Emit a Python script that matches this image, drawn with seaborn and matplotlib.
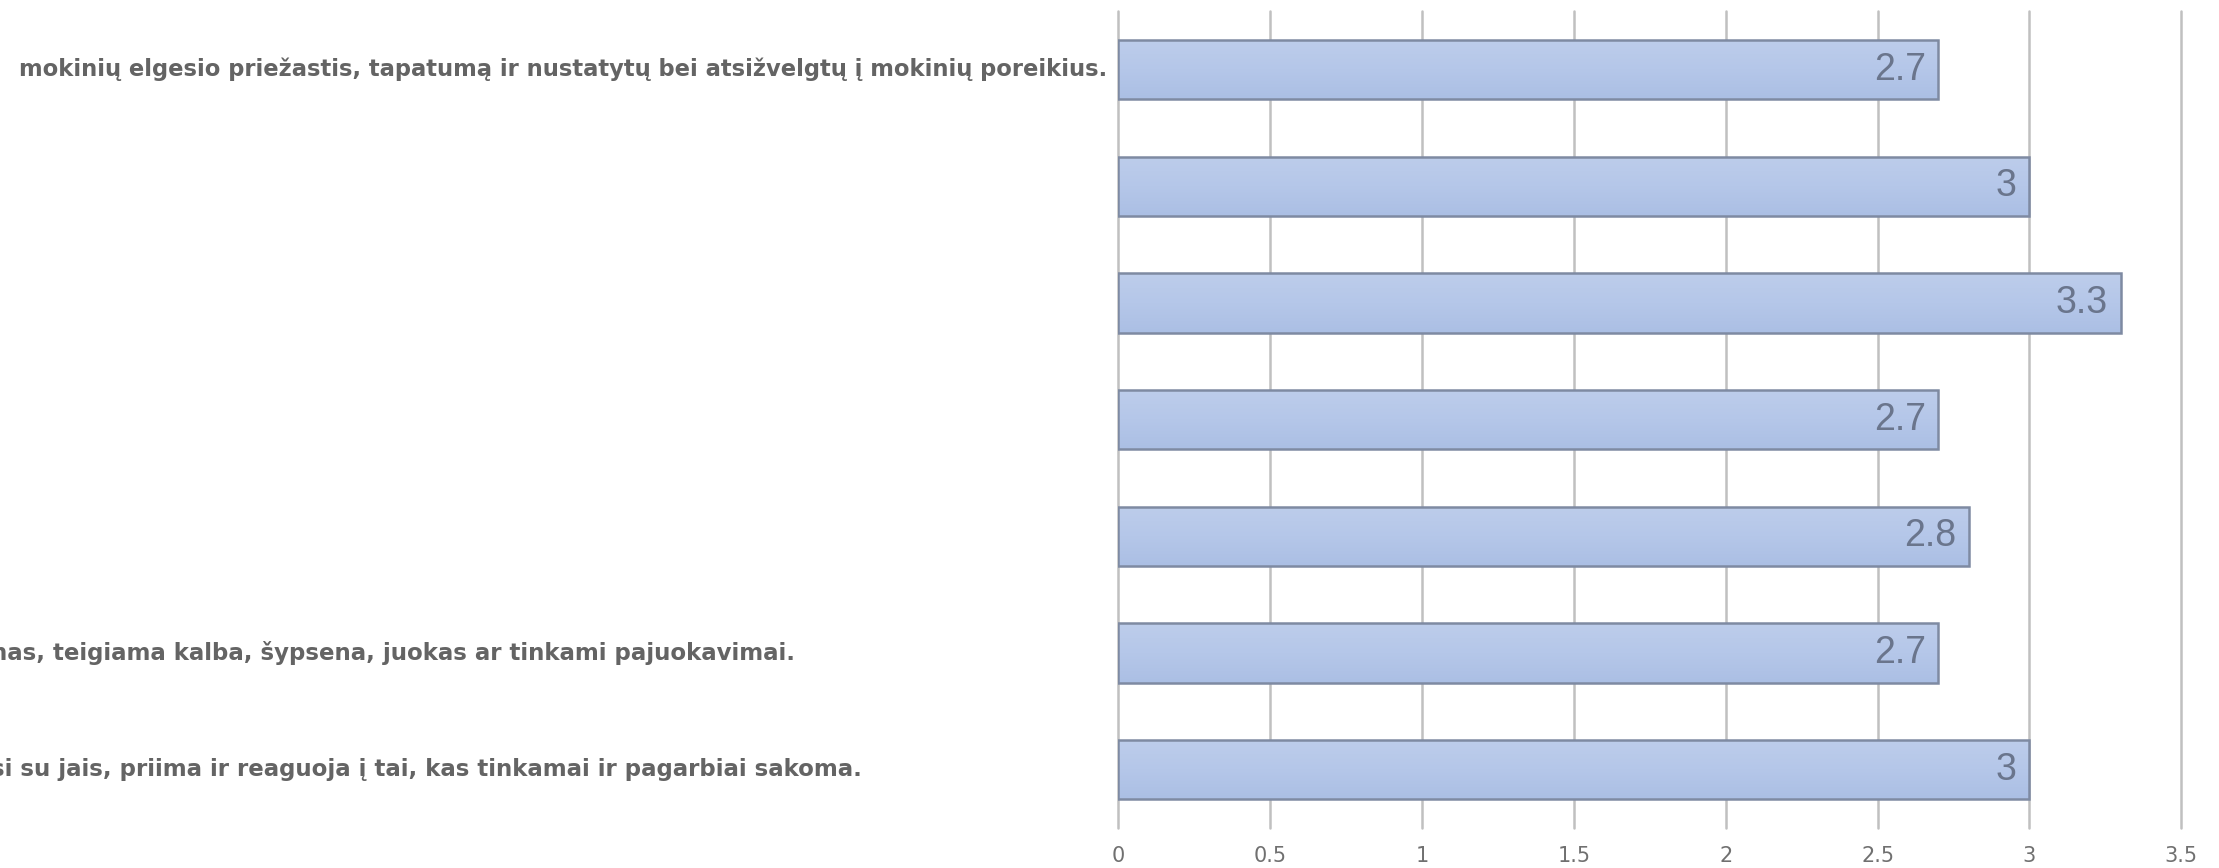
import numpy as np
import pandas as pd
import matplotlib
matplotlib.use("Agg")
import matplotlib.pyplot as plt
import matplotlib.transforms as mtransforms
from matplotlib.colors import LinearSegmentedColormap
import seaborn as sns

# data
items = ["1", "2", "3", "4", "5", "6", "7"]
values = [2.7, 3, 3.3, 2.7, 2.8, 2.7, 3]
# only the visible fragments of the long category labels
label_right = {0: "mokinių elgesio priežastis, tapatumą ir nustatytų bei atsižvelgtų į mokinių poreikius."}
label_left = {
    5: "nas, teigiama kalba, šypsena, juokas ar tinkami pajuokavimai.",
    6: "si su jais, priima ir reaguoja į tai, kas tinkamai ir pagarbiai sakoma.",
}
xticks = [0, 0.5, 1, 1.5, 2, 2.5, 3, 3.5]
xtick_labels = ["0", "0.5", "1", "1.5", "2", "2.5", "3", "3.5"]

sns.set_theme(style="white")
plt.rcParams["font.family"] = ["DejaVu Sans"]

df = pd.DataFrame({"item": items, "value": values})

fig = plt.figure(figsize=(22.19, 8.68), dpi=100)
ax = fig.add_axes([0.504, 0.046, 0.479, 0.941])

sns.barplot(data=df, x="value", y="item", orient="h", color="#b4c6e9",
            saturation=1, width=0.51, edgecolor="#7e8aa2", linewidth=1.8,
            ax=ax, zorder=3)

# soft vertical gradient inside each bar, like the office chart style
grad = LinearSegmentedColormap.from_list("bar", ["#bdcdeb", "#b5c7e9", "#abbfe4"])
g = np.linspace(0, 1, 64).reshape(-1, 1)
for p in ax.containers[0]:
    x0, y0, w, h = p.get_x(), p.get_y(), p.get_width(), p.get_height()
    im = ax.imshow(g, cmap=grad, aspect="auto", origin="upper",
                   extent=(x0, x0 + w, y0 + h, y0), zorder=2.9)
    im.set_clip_path(p)
    p.set_facecolor("none")

ax.set_xlim(0, 3.5)
ax.set_ylim(6.5, -0.5)
ax.set_xticks(xticks)
ax.set_xticklabels(xtick_labels, family=["Liberation Sans Narrow", "DejaVu Sans"],
                   fontsize=15, color="#707070")
ax.set_yticks([])
ax.set_xlabel("")
ax.set_ylabel("")
ax.tick_params(axis="x", length=0, pad=13)
for s in ax.spines.values():
    s.set_visible(False)

ax.grid(axis="x", color="#c0c0c0", linewidth=1.8, zorder=0)
ax.grid(axis="y", visible=False)
for gl in ax.get_xgridlines():
    gl.set_clip_on(False)

# value labels inside the bar ends
texts = ax.bar_label(ax.containers[0], labels=[f"{v:g}" for v in values],
                     padding=-9, fontsize=27, color="#6a758c",
                     family=["Liberation Sans", "DejaVu Sans"], zorder=4)
for t in texts:
    t.set_ha("right")

# category labels (cut off like in the reference)
trans_ax = ax.get_yaxis_transform()
for i, txt in label_right.items():
    ax.text(-0.011, i, txt, transform=trans_ax, ha="right", va="center",
            fontsize=16.3, fontweight="bold", color="#646464")

trans_fig = mtransforms.blended_transform_factory(fig.transFigure, ax.transData)
for i, txt in label_left.items():
    fig.text(-0.004, i, txt, transform=trans_fig, ha="left", va="center",
             fontsize=16.5, fontweight="bold", color="#646464")

fig.savefig("out.png", dpi=100)
